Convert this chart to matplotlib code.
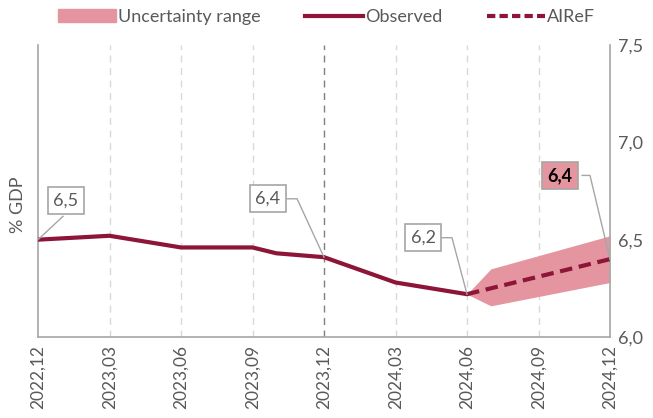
import matplotlib
matplotlib.use("Agg")
import matplotlib.pyplot as plt
from matplotlib.patches import Patch
from matplotlib.lines import Line2D
import numpy as np

plt.rcParams['font.family'] = ['Lato', 'DejaVu Sans']

# ---- data ----
tick_labels = ["2022,12", "2023,03", "2023,06", "2023,09", "2023,12",
               "2024,03", "2024,06", "2024,09", "2024,12"]
obs_month = [0, 3, 6, 9, 10, 12, 15, 18]
obs_value = [6.50, 6.52, 6.46, 6.46, 6.43, 6.41, 6.28, 6.22]
fc_month = [18, 24]
fc_value = [6.22, 6.40]
band_month = [18, 19, 24]
band_low = [6.22, 6.16, 6.28]
band_high = [6.22, 6.35, 6.52]

dark = "#8C1538"
pink = "#E5959F"
grey = "#595959"

fig = plt.figure(figsize=(6.53, 4.18), dpi=100)
ax = fig.add_axes([38/653, 81/418, 572/653, 292/418])

ax.fill_between(band_month, band_low, band_high, color=pink, lw=0, zorder=2)
ax.plot(obs_month, obs_value, color=dark, lw=3, zorder=3, solid_capstyle='round')
ax.plot(fc_month, fc_value, color=dark, lw=3, ls=(0, (3, 1.6)), zorder=3)

ax.set_xlim(0, 24)
ax.set_ylim(6.0, 7.5)
ticks = np.arange(0, 25, 3)
ax.set_xticks(ticks)
ax.set_xticklabels(tick_labels, rotation=90, fontsize=12.5, color=grey)
ax.set_yticks([6.0, 6.5, 7.0, 7.5])
ax.set_yticklabels(["6,0", "6,5", "7,0", "7,5"], fontsize=13, color=grey)
ax.yaxis.tick_right()
ax.tick_params(axis='both', length=0, pad=6)

for t in ticks[1:-1]:
    if t == 12:
        ax.axvline(t, color="#7f7f7f", lw=1, ls=(0, (5, 4)), zorder=1)
    else:
        ax.axvline(t, color="#d9d9d9", lw=1, ls=(0, (5, 4)), zorder=1)

for s in ["left", "right", "bottom"]:
    ax.spines[s].set_color("#a6a6a6")
    ax.spines[s].set_linewidth(1.2)
ax.spines["top"].set_visible(False)

fig.text(18/653, 1 - 205/418, "% GDP", rotation=90, fontsize=13, color=grey,
         ha='center', va='center')

# annotations
def box(x, y, txt, bold=False, face="white"):
    ax.text(x, y, txt, fontsize=13, color="black" if bold else grey,
            fontweight='bold' if bold else 'normal', ha='center', va='center',
            bbox=dict(boxstyle='square,pad=0.3', fc=face, ec="#a6a6a6", lw=1.2),
            zorder=5)

box(1.17, 6.70, "6,5")
ax.plot([1.05, obs_month[0]], [6.62, obs_value[0]], color="#a6a6a6", lw=1, zorder=4, clip_on=False)

box(9.65, 6.71, "6,4")
ax.plot([10.45, 10.87, obs_month[5]], [6.71, 6.71, obs_value[5]], color="#a6a6a6", lw=1, zorder=4)

box(16.16, 6.51, "6,2")
ax.plot([16.95, 17.37, obs_month[7]], [6.51, 6.51, obs_value[7]], color="#a6a6a6", lw=1, zorder=4)

box(21.9, 6.83, "6,4", bold=True, face=pink)
ax.plot([22.83, 23.16, fc_month[1]], [6.83, 6.83, fc_value[1]], color="#a6a6a6", lw=1, zorder=4, clip_on=False)

handles = [Patch(color=pink, label="Uncertainty range"),
           Line2D([], [], color=dark, lw=3, label="Observed"),
           Line2D([], [], color=dark, lw=3, ls=(0, (2, 1)), label="AIReF")]
fig.legend(handles=handles, loc='center', bbox_to_anchor=(0.5, 1 - 17/418), ncol=3,
           frameon=False, fontsize=13, labelcolor=grey, handlelength=3.2,
           handletextpad=0.1, columnspacing=2.5)

fig.savefig("out.png", dpi=100)
